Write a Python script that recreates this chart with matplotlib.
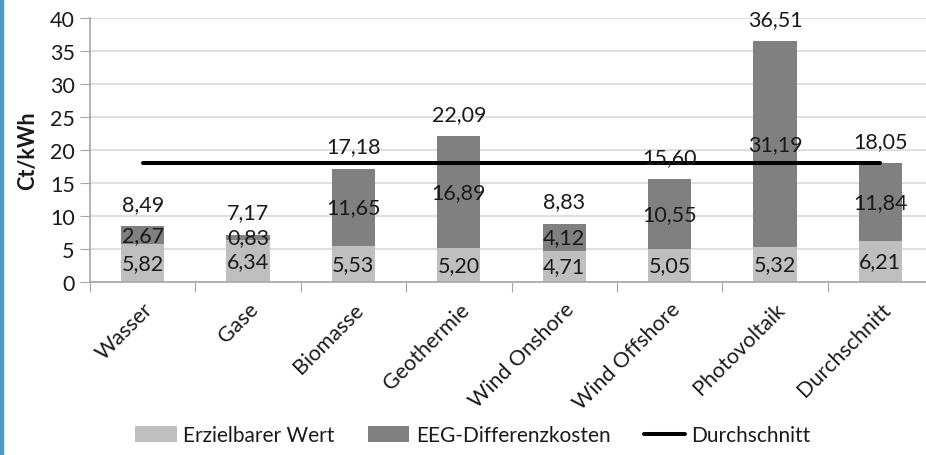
import matplotlib.pyplot as plt
from matplotlib.patches import Rectangle

categories = ["Wasser", "Gase", "Biomasse", "Geothermie", "Wind Onshore",
              "Wind Offshore", "Photovoltaik", "Durchschnitt"]
erzielbar = [5.82, 6.34, 5.53, 5.20, 4.71, 5.05, 5.32, 6.21]
eeg_diff = [2.67, 0.83, 11.65, 16.89, 4.12, 10.55, 31.19, 11.84]
totals = [8.49, 7.17, 17.18, 22.09, 8.83, 15.60, 36.51, 18.05]
durchschnitt = [18.05] * len(categories)


def fmt(v):
    return "{:.2f}".format(v).replace(".", ",")


plt.rcParams["font.family"] = ["Lato", "DejaVu Sans"]
fig = plt.figure(figsize=(9.26, 4.56), dpi=100)
ax = fig.add_axes([90 / 926, 1 - 283 / 456, 843 / 926, 264 / 456])

x = list(range(len(categories)))
w = 0.41
light, dark = "#bfbfbf", "#808080"
fs = 15.5
b1 = ax.bar(x, erzielbar, w, color=light, label="Erzielbarer Wert", zorder=2)
b2 = ax.bar(x, eeg_diff, w, bottom=erzielbar, color=dark,
            label="EEG-Differenzkosten", zorder=2)
ln, = ax.plot(x, durchschnitt, color="black", lw=2.9, solid_capstyle="round",
              label="Durchschnitt", zorder=3)

txt = "#1a1a1a"
for i in x:
    ax.text(i, erzielbar[i] / 2, fmt(erzielbar[i]), ha="center", va="center",
            fontsize=fs, color=txt, zorder=4)
    ax.text(i, erzielbar[i] + eeg_diff[i] / 2, fmt(eeg_diff[i]), ha="center",
            va="center", fontsize=fs, color=txt, zorder=4)
    ax.annotate(fmt(totals[i]), (i, totals[i]), xytext=(0, 16),
                textcoords="offset points", ha="center", va="center",
                fontsize=fs, color=txt, zorder=4)

ax.set_xlim(-0.5, len(categories) - 0.5)
ax.set_ylim(0, 40)
ax.set_yticks(range(0, 41, 5))
ax.set_xticks([i - 0.5 for i in range(len(categories) + 1)])
ax.set_xticklabels([])
ax.set_xticks(x, minor=True)
ax.set_xticklabels(categories, minor=True, rotation=45, ha="right",
                   rotation_mode="anchor", fontsize=fs, color=txt)
ax.tick_params(axis="x", which="minor", length=0, pad=12)
ax.tick_params(axis="x", which="major", length=7, color="#a6a6a6")
ax.tick_params(axis="y", length=7, color="#a6a6a6", labelsize=fs,
               labelcolor=txt, pad=4)
ax.grid(axis="y", color="#d9d9d9", lw=1.2, zorder=0)
ax.set_axisbelow(True)
for s in ["top", "right"]:
    ax.spines[s].set_visible(False)
for s in ["left", "bottom"]:
    ax.spines[s].set_color("#a6a6a6")
    ax.spines[s].set_linewidth(1.2)
ax.set_ylabel("Ct/kWh", fontsize=fs, fontweight="bold", color=txt, labelpad=8)

fig.legend(handles=[b1, b2, ln], loc="lower center",
           bbox_to_anchor=(473 / 926, -0.02), ncol=3, frameon=False,
           fontsize=15, handlelength=2.0, handleheight=0.75,
           handletextpad=0.3, columnspacing=1.6, labelcolor=txt)

fig.add_artist(Rectangle((0, 0), 3 / 926, 1, transform=fig.transFigure,
                         color="#4a9cc2", zorder=5))

fig.savefig("out.png", dpi=100)
